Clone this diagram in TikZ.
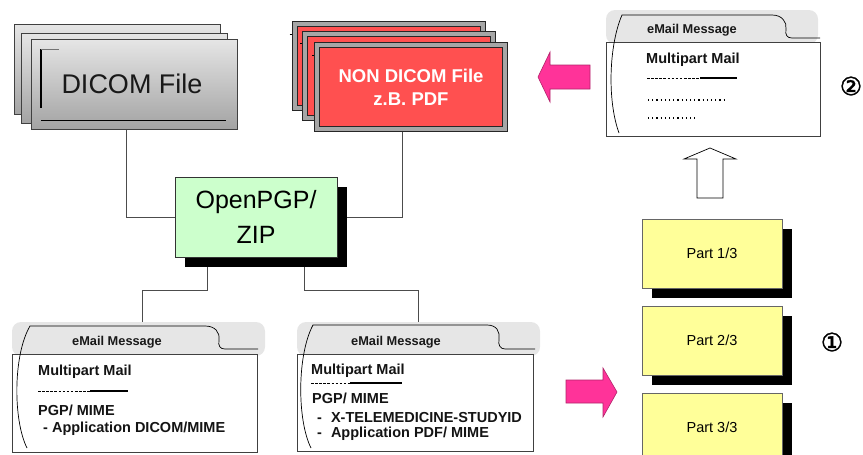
\documentclass[tikz,border=0pt]{standalone}
\usepackage{fontspec}
\setmainfont{Liberation Sans}
\newfontfamily\djv[FakeBold=1.8]{DejaVu Sans}
\usetikzlibrary{shadows,backgrounds}
\definecolor{pgpgreen}{HTML}{CCFFCC}
\definecolor{partyellow}{HTML}{FFFF99}
\definecolor{nonred}{HTML}{FF5050}
\definecolor{hotpink}{HTML}{FF3399}
\definecolor{pinkedge}{HTML}{B0246A}
\definecolor{mailgray}{HTML}{E6E6E6}
\tikzset{
  sheet/.style={draw=black!75, line width=0.9pt, top color=black!10, bottom color=black!36,
    minimum width=206pt, minimum height=90pt, inner sep=0pt},
  redsheet/.style={draw=black!85, line width=0.8pt, double=black!35, double distance=4pt,
    fill=nonred, minimum width=188.4pt, minimum height=84.4pt, inner sep=0pt},
  boxshadow/.style={general shadow={fill=black, shadow xshift=10pt, shadow yshift=-10pt}},
  pgpbox/.style={draw=black!80, line width=0.8pt, fill=pgpgreen, boxshadow,
    minimum width=162pt, minimum height=80pt, align=center,
    font=\fontsize{25}{35}\selectfont},
  partbox/.style={draw=black!60, line width=0.8pt, fill=partyellow, boxshadow,
    minimum width=140pt, minimum height=69pt, font=\fontsize{14.5}{17}\selectfont},
  conn/.style={draw=black!70, line width=0.8pt},
  mailbox/.style={draw=black!75, line width=0.8pt, fill=white},
  tabline/.style={draw=black, line width=0.7pt},
  mailhead/.style={font=\bfseries\fontsize{12.8}{14}\selectfont, inner sep=0pt, text=black!90},
  mailtext/.style={font=\bfseries\fontsize{14.5}{17}\selectfont, inner sep=0pt, anchor=west, text=black!92},
  dashpart/.style={line width=1pt, dash pattern=on 2.6pt off 1.5pt},
  solidpart/.style={line width=1.2pt},
  dotline/.style={line width=1.4pt, dash pattern=on 1.2pt off 3pt},
  pinkarrow/.style={fill=hotpink, draw=pinkedge, line width=0.6pt},
  hollowarrow/.style={fill=white, draw=black, line width=0.7pt},
  circnum/.style={font=\djv\fontsize{25}{25}\selectfont, inner sep=0pt}
}
\begin{document}
\begin{tikzpicture}[x=1pt,y=-1pt]
\useasboundingbox (0,0) rectangle (863,455);

% ---------------- DICOM stack
\node[sheet] (dicomA) at (117,69) {};
\node[sheet] (dicomB) at (124,78) {};
\node[sheet, font=\fontsize{27}{30}\selectfont, text=black!90] (dicom) at (134,84) {\hspace*{-4pt}DICOM File};
\draw[line width=1.6pt] (41,49) -- (41,108);
\draw[black!55, line width=0.8pt] (41,49) -- (59,49);
\draw[line width=0.9pt] (41,120) -- (226,120);

% ---------------- NON DICOM stack
\draw[line width=0.8pt] (289.5,34) -- (292,34);
\node[redsheet] (nondicomA) at (389,66) {};
\draw[line width=0.8pt] (300,43.5) -- (302,43.5);
\node[redsheet] (nondicomB) at (399,76) {};
\draw[line width=0.8pt] (312,55) -- (314,55);
\node[redsheet, text=white, align=center, font=\bfseries\fontsize{18.5}{23}\selectfont] (nondicom) at (411,87) {NON DICOM File\\z.B. PDF};

% ---------------- OpenPGP
\node[pgpbox] (pgp) at (256,217) {OpenPGP/\\ZIP};

% ---------------- top right mail
\fill[mailgray, rounded corners=9pt] (606,44) -- (606,10) -- (818,10) -- (818,44) -- cycle;
\node[mailbox, minimum width=214pt, minimum height=94pt, inner sep=0pt] (mailT) at (713,89) {};
\draw[tabline] (619,133) .. controls (607,100) and (609,45) .. (622,15) -- (772,15)
  .. controls (782,15) and (787,22) .. (786,29) .. controls (785,35) and (787,38) .. (792,38) -- (820,38);
\node[mailhead] (mailThead) at (692,30) {eMail Message};
\node[mailtext] (mailT1) at (646,60) {Multipart Mail};
\draw[dashpart] (647,78) -- (700,78);
\draw[solidpart] (700,78) -- (737,78);
\draw[dotline] (648,100) -- (726,100);
\draw[dotline] (648,118) -- (698,118);

% ---------------- bottom left mail
\fill[mailgray, rounded corners=9pt] (12,356) -- (12,322) -- (265,322) -- (265,356) -- cycle;
\node[mailbox, minimum width=245pt, minimum height=98pt, inner sep=0pt] (mailL) at (134.5,403) {};
\draw[tabline] (27,448) .. controls (13,420) and (13,355) .. (30,326) -- (205,326)
  .. controls (215,326) and (220,332) .. (219,340) .. controls (218,346) and (220,349) .. (225,349) -- (258,349);
\node[mailhead] (mailLhead) at (117,342) {eMail Message};
\node[mailtext] (mailL1) at (38,372) {Multipart Mail};
\draw[dashpart] (38,391) -- (90,391);
\draw[solidpart] (90,391) -- (128,391);
\node[mailtext] (mailL2) at (38,410) {PGP/ MIME};
\node[mailtext] (mailL3) at (43,429) {- Application DICOM/MIME};

% ---------------- bottom middle mail
\fill[mailgray, rounded corners=9pt] (297,356) -- (297,322) -- (540,322) -- (540,356) -- cycle;
\node[mailbox, minimum width=236pt, minimum height=97pt, inner sep=0pt] (mailM) at (415,402.5) {};
\draw[tabline] (311,448) .. controls (297,420) and (297,355) .. (313,325) -- (487,325)
  .. controls (497,325) and (500,332) .. (499,339) .. controls (498,345) and (500,349) .. (505,349) -- (535,349);
\node[mailhead] (mailMhead) at (396,342) {eMail Message};
\node[mailtext] (mailM1) at (311,371) {Multipart Mail};
\draw[dashpart] (311,383) -- (350,383);
\draw[solidpart] (350,383) -- (402,383);
\node[mailtext] (mailM2) at (312,398) {PGP/ MIME};
\node[mailtext] (mailM3) at (317,418) {-\hspace{9pt}X-TELEMEDICINE-STUDYID};
\node[mailtext] (mailM4) at (317,434) {-\hspace{9pt}Application PDF/ MIME};

% ---------------- parts
\node[partbox] (part1) at (712,253.5) {Part 1/3};
\node[partbox] (part2) at (712,340.5) {Part 2/3};
\node[partbox] (part3) at (712,427.5) {Part 3/3};

% ---------------- arrows (shapes)
\filldraw[pinkarrow] (538,77) -- (550,52) -- (550,65) -- (590,65) -- (590,89) -- (550,89) -- (550,102) -- cycle;
\filldraw[pinkarrow] (566,380) -- (603,380) -- (603,368) -- (617,392) -- (603,417) -- (603,403) -- (566,403) -- cycle;
\filldraw[hollowarrow] (710,148) -- (736,159) -- (723,159) -- (723,198) -- (697,198) -- (697,159) -- (684,159) -- cycle;

% ---------------- circled numbers
\node[circnum] (num2) at (851,86) {②};
\node[circnum] (num1) at (832,342) {①};

% ---------------- connectors
\coordinate (m1in) at (142,322);
\coordinate (m2in) at (418,322);
\begin{scope}[on background layer]
\draw[conn] ([xshift=-8pt]dicom.south) |- (pgp.west);
\draw[conn] ([xshift=-9pt]nondicom.south) |- (pgp.east);
\draw[conn] ([xshift=-49pt]pgp.south) -- ++(0,33) -| (m1in);
\draw[conn] ([xshift=48pt]pgp.south) -- ++(0,33) -| (m2in);
\end{scope}
\end{tikzpicture}
\end{document}
